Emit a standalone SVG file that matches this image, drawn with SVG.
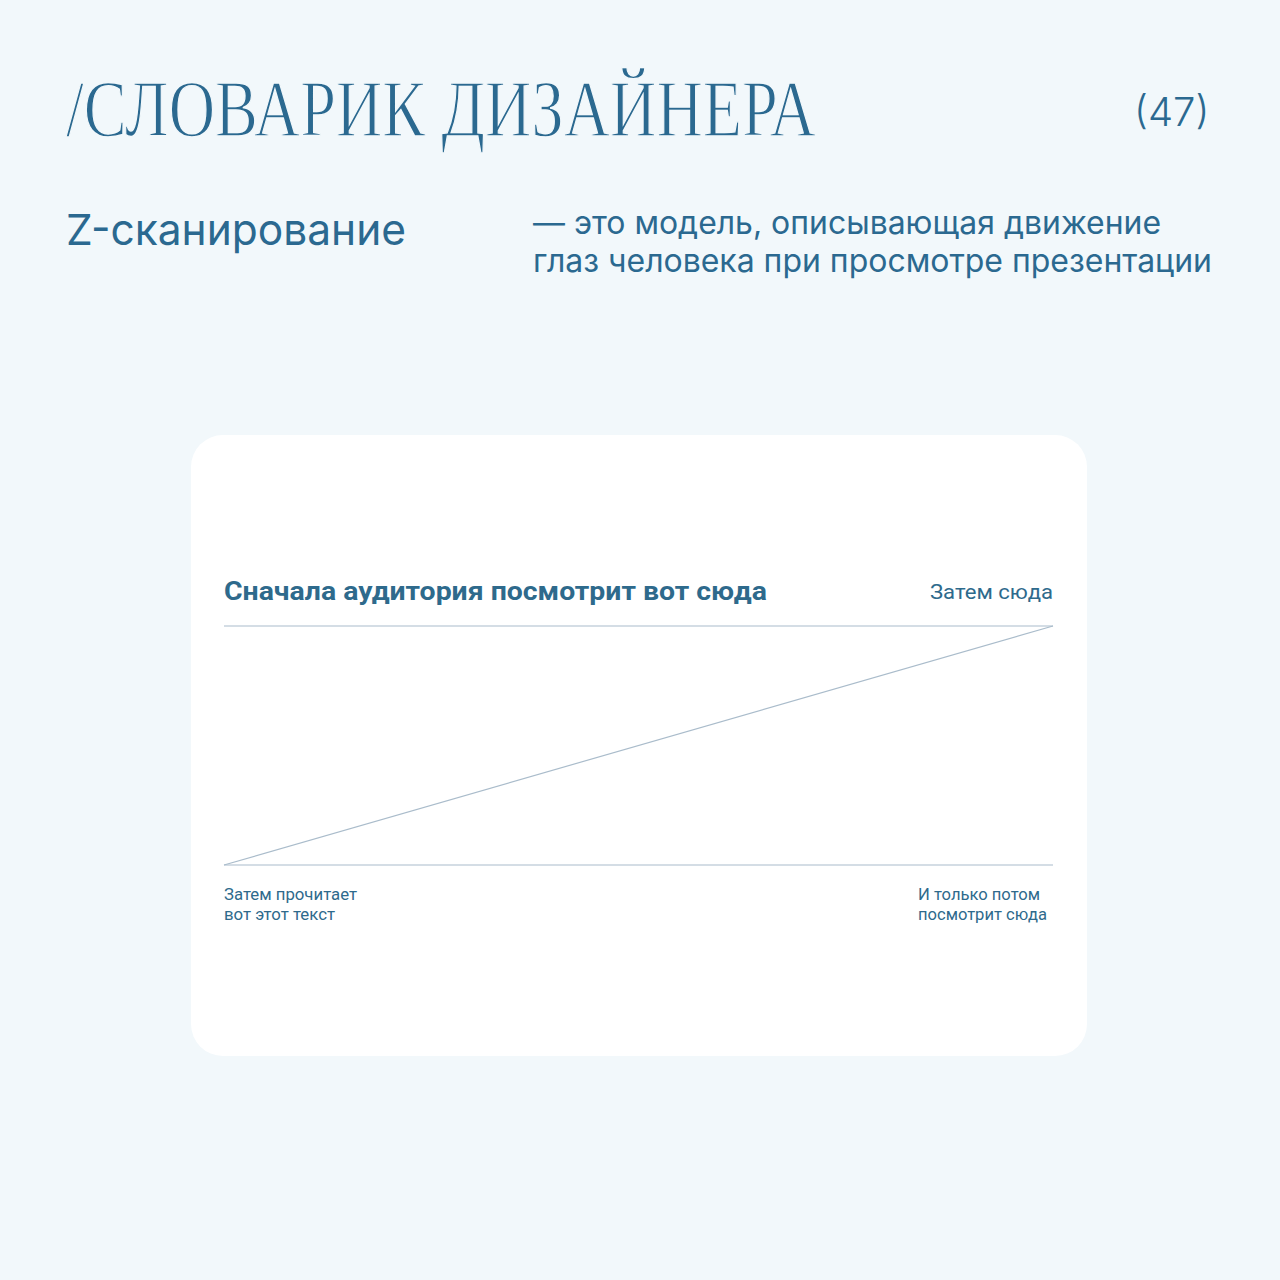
<svg xmlns="http://www.w3.org/2000/svg" width="1280" height="1280" viewBox="0 0 1280 1280">
<style>
.t{fill:#2b6990;font-family:Inter,"Noto Sans",sans-serif}
.s{fill:#2e6a8c;font-family:Roboto,"Noto Sans",sans-serif}
.ln{stroke:#aabccb;stroke-width:1.2;fill:none}
</style>
<rect width="1280" height="1280" fill="#f2f8fb"/>
<g id="header">
<text x="66" y="136" font-family="Liberation Serif,serif" font-size="80" fill="#2b6990" stroke="#f2f8fb" stroke-width="1.4" textLength="750" lengthAdjust="spacingAndGlyphs">/СЛОВАРИК ДИЗАЙНЕРА</text>
<text class="t" x="1134" y="126" font-size="40" font-weight="300">(47)</text>
</g>
<g id="definition">
<text class="t" x="66" y="245" font-size="43" textLength="340" lengthAdjust="spacingAndGlyphs">Z-сканирование</text>
<text class="t" x="533" y="234" font-size="32" textLength="628" lengthAdjust="spacingAndGlyphs">— это модель, описывающая движение</text>
<text class="t" x="533" y="272" font-size="32" textLength="679" lengthAdjust="spacingAndGlyphs">глаз человека при просмотре презентации</text>
</g>
<g id="card">
<rect x="191" y="435" width="896" height="621" rx="32" fill="#ffffff"/>
</g>
<g id="connectors">
<line class="ln" x1="224" y1="626" x2="1053" y2="626"/>
<line class="ln" x1="224" y1="865" x2="1053" y2="626"/>
<line class="ln" x1="224" y1="865" x2="1053" y2="865"/>
</g>
<g id="label-first">
<text class="s" x="224" y="600" font-size="26" font-weight="700" textLength="543" lengthAdjust="spacingAndGlyphs">Сначала аудитория посмотрит вот сюда</text>
</g>
<g id="label-second">
<text class="s" x="930" y="599" font-size="21" textLength="123" lengthAdjust="spacingAndGlyphs">Затем сюда</text>
</g>
<g id="label-third">
<text class="s" x="224" y="900" font-size="16" textLength="133" lengthAdjust="spacingAndGlyphs">Затем прочитает</text>
<text class="s" x="224" y="920" font-size="16" textLength="111" lengthAdjust="spacingAndGlyphs">вот этот текст</text>
</g>
<g id="label-fourth">
<text class="s" x="918" y="900" font-size="16" textLength="122" lengthAdjust="spacingAndGlyphs">И только потом</text>
<text class="s" x="918" y="920" font-size="16" textLength="129" lengthAdjust="spacingAndGlyphs">посмотрит сюда</text>
</g>
</svg>
